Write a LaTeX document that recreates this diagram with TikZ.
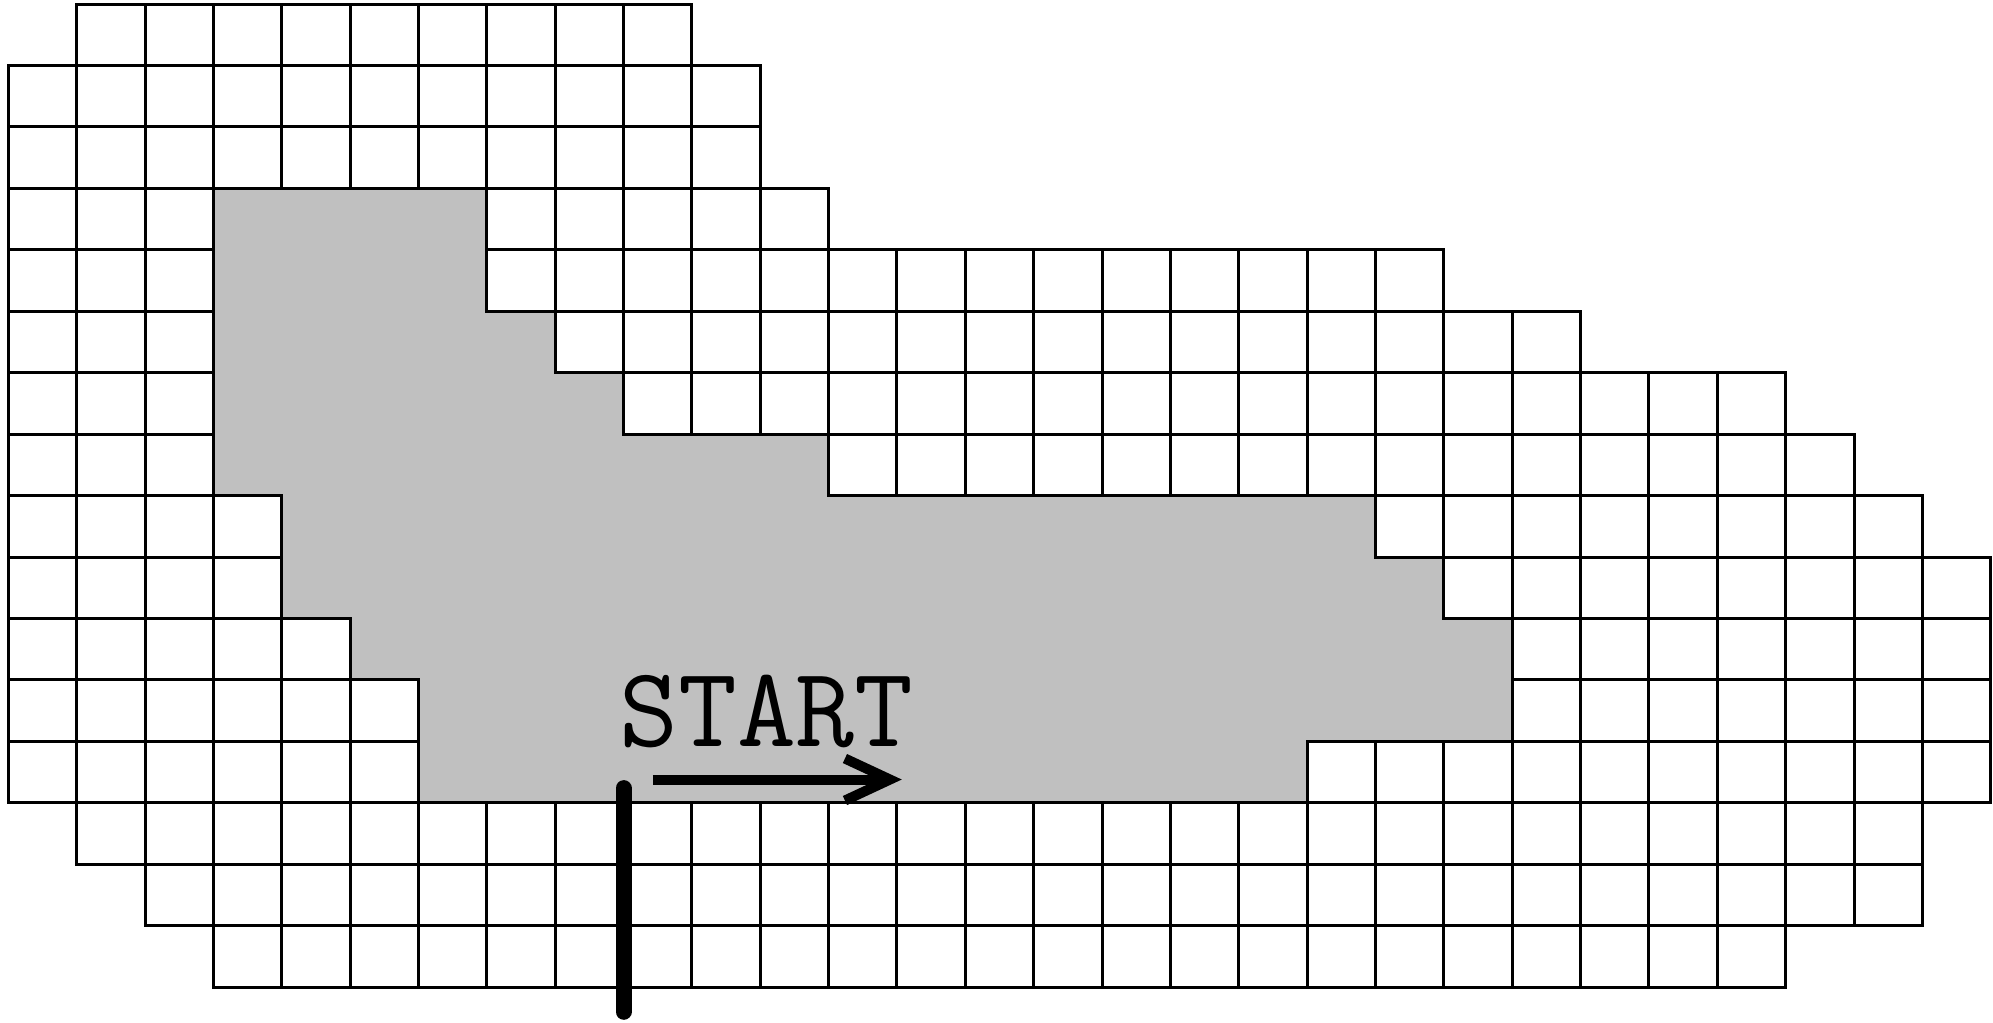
\documentclass[tikz,border=0pt]{standalone}
\usepackage{fontspec}
\usetikzlibrary{arrows.meta}
\definecolor{regiongrey}{RGB}{192,192,192}
\tikzset{
  cell/.style={draw, fill=white, line width=0.03cm},
  marker/.style={line width=0.16cm, line cap=round},
  dirarrow/.style={line width=0.1cm, -{Straight Barb[length=0.45cm, width=0.42cm]}}
}

\begin{document}
\begin{tikzpicture}[x=0.6836cm, y=-0.6145cm]
  \useasboundingbox[fill=white] (-0.1214,-0.0651) rectangle (29.033,16.566);

  % Draw shaded region
  \fill[regiongrey] (3,3) -- (7,3) -- (7,5) -- (8,5) -- (8,6) -- (9,6) -- (9,7)
    -- (12,7) -- (12,8) -- (20,8) -- (20,9) -- (21,9) -- (21,10) -- (22,10)
    -- (22,12) -- (19,12) -- (19,13) -- (6,13) -- (6,11) -- (5,11) -- (5,10)
    -- (4,10) -- (4,8) -- (3,8) -- cycle;

  % Draw cells (row/first/last)
  \foreach \r/\a/\b in {0/1/9, 1/0/10, 2/0/10, 3/0/2, 3/7/11, 4/0/2, 4/7/20,
      5/0/2, 5/8/22, 6/0/2, 6/9/25, 7/0/2, 7/12/26, 8/0/3, 8/20/27,
      9/0/3, 9/21/28, 10/0/4, 10/22/28, 11/0/5, 11/22/28, 12/0/5, 12/19/28,
      13/1/27, 14/2/27, 15/3/25}
    \foreach \c in {\a,...,\b}
      \draw[cell] (\c,\r) rectangle ++(1,1);

  % Draw start marker
  \coordinate (m1) at (9,12.76);
  \coordinate (m2) at (9,16.40);
  \draw[marker] (m1) -- (m2);

  % Draw label and arrow
  \node[anchor=base, inner sep=0pt, font=\ttfamily\fontsize{32.5}{34}\selectfont]
    (start) at (11.09,12.09) {START};
  \coordinate (a1) at (9.43,12.62);
  \coordinate (a2) at (13.07,12.62);
  \draw[dirarrow] (a1) -- (a2);
\end{tikzpicture}
\end{document}
